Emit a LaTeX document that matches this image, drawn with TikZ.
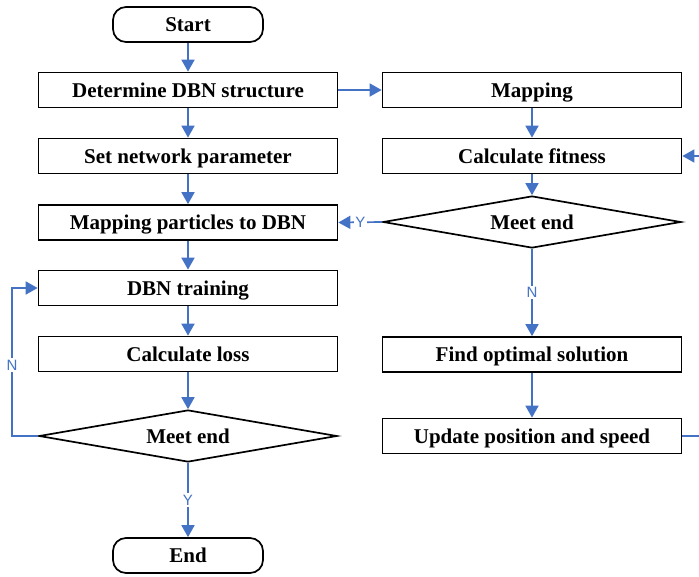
\documentclass[tikz,border=0pt]{standalone}
\usepackage{fontspec}
\setmainfont{Liberation Serif}
\newfontfamily\labelfont{Liberation Sans}
\usetikzlibrary{shapes.geometric,arrows.meta}
\definecolor{flowblue}{HTML}{4472C4}
\tikzset{
  boxfont/.style={font=\fontsize{21}{24}\selectfont\bfseries, text height=17pt, text depth=3pt},
  procbox/.style={draw=black, line width=1.7pt, fill=white, minimum width=299pt, minimum height=35pt,
    inner sep=0pt, boxfont},
  termbox/.style={procbox, minimum width=150pt, rounded corners=13pt},
  decbox/.style={draw=black, line width=1.7pt, shape=diamond, aspect=5.7, minimum width=298pt,
    minimum height=52pt, inner sep=0pt, boxfont},
  flow/.style={draw=flowblue, line width=1.7pt, -{Triangle[length=12pt,width=13pt]}},
  yn/.style={fill=white, text=flowblue, inner sep=1.5pt, font=\labelfont\fontsize{15}{17}\selectfont}
}
\begin{document}
\begin{tikzpicture}[x=1pt,y=-1pt]
\useasboundingbox (0,0) rectangle (699,576);
\clip (0,0) rectangle (699,576);

% left column: DBN
\node[termbox] (start) at (188,24.5) {Start};
\node[procbox] (det) at (188,90) {Determine DBN structure};
\node[procbox] (setp) at (188,156) {Set network parameter};
\node[procbox] (mpd) at (188,222.5) {Mapping particles to DBN};
\node[procbox] (train) at (188,288) {DBN training};
\node[procbox] (loss) at (188,354) {Calculate loss};
\node[decbox] (dia1) at (188,436) {Meet end};
\node[termbox] (end) at (188,555.5) {End};

% right column: particle swarm
\node[procbox] (map) at (532,90) {Mapping};
\node[procbox] (fit) at (532,156) {Calculate fitness};
\node[decbox] (dia2) at (532,222) {Meet end};
\node[procbox] (opt) at (532,354.5) {Find optimal solution};
\node[procbox] (upd) at (532,436) {Update position and speed};

\coordinate (nl) at (12,436);
\coordinate (nt) at (12,288);
\coordinate (rl) at (720,436);
\coordinate (rt) at (720,156);

% connectors
\draw[flow] (start) -- (det);
\draw[flow] (det) -- (setp);
\draw[flow] (setp) -- (mpd);
\draw[flow] (mpd) -- (train);
\draw[flow] (train) -- (loss);
\draw[flow] (loss) -- (dia1);
\draw[flow] (dia1) -- node[yn] {Y} (end);
\draw[flow] (dia1.west) -- (nl) -- node[yn, pos=0.48] {N} (nt) -- (train.west);

\draw[flow] (det.east) -- (map.west);
\draw[flow] (map) -- (fit);
\draw[flow] (fit) -- (dia2);
\draw[flow] (dia2.west) -- node[yn] {Y} (mpd.east);
\draw[flow] (dia2.south) -- node[yn] {N} (opt.north);
\draw[flow] (opt) -- (upd);
\draw[flow] (upd.east) -- (rl) -- (rt) -- (fit.east);
\end{tikzpicture}
\end{document}
